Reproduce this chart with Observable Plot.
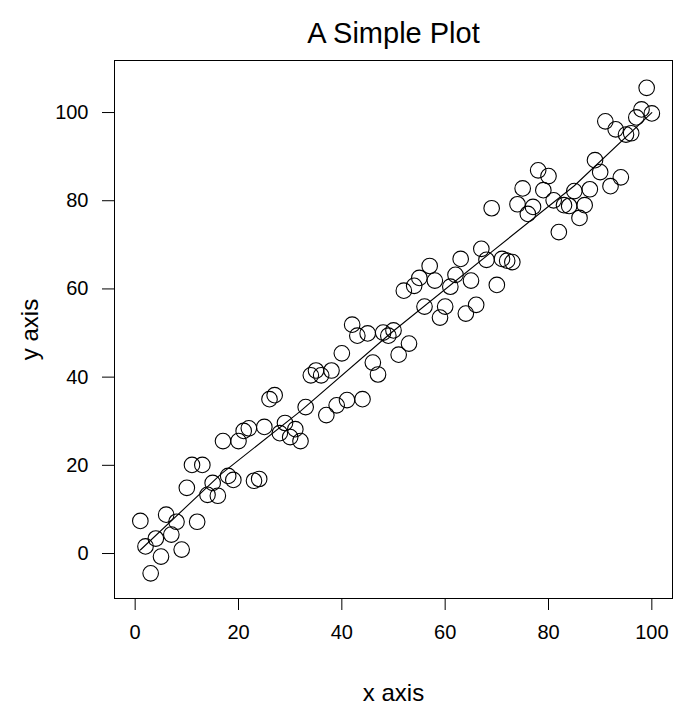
<!DOCTYPE html>
<html>
<head>
<meta charset="utf-8">
<script src="https://cdn.jsdelivr.net/npm/d3@7"></script>
<script src="https://cdn.jsdelivr.net/npm/@observablehq/plot@0.6"></script>
<style>
  html, body { margin: 0; padding: 0; background: #fff; }
</style>
</head>
<body>
<div id="chart"></div>
<script>
const xs = [1,2,3,4,5,6,7,8,9,10,11,12,13,14,15,16,17,18,19,20,21,22,23,24,25,26,27,28,29,30,31,32,33,34,35,36,37,38,39,40,41,42,43,44,45,46,47,48,49,50,51,52,53,54,55,56,57,58,59,60,61,62,63,64,65,66,67,68,69,70,71,72,73,74,75,76,77,78,79,80,81,82,83,84,85,86,87,88,89,90,91,92,93,94,95,96,97,98,99,100];
const ys = [7.4,1.6,-4.5,3.4,-0.7,8.8,4.3,7.2,0.9,14.9,
            20.1,7.2,20.1,13.3,16.0,13.1,25.5,17.6,16.7,25.5,
            27.8,28.4,16.5,16.9,28.7,35.0,35.9,27.3,29.6,26.4,
            28.2,25.5,33.2,40.4,41.5,40.4,31.4,41.5,33.6,45.4,
            34.8,51.9,49.4,35.0,49.9,43.3,40.6,50.1,49.4,50.6,
            45.1,59.6,47.6,60.7,62.5,56.0,65.2,61.9,53.5,56.0,
            60.5,63.2,66.8,54.4,61.9,56.4,69.1,66.6,78.3,60.9,
            66.8,66.4,66.1,79.2,82.8,77.0,78.6,86.9,82.4,85.6,
            80.1,72.9,79.0,78.8,82.2,76.1,79.0,82.6,89.2,86.5,
            98.0,83.3,96.2,85.3,95.0,95.3,98.9,100.7,105.6,99.8];
const lineX = [1, 16.6, 32, 49.5, 69, 85, 100];
const lineY = [0.8, 18, 32.3, 50, 68.4, 83.4, 100];
const xTicks = [0, 20, 40, 60, 80, 100];
const yTicks = [0, 20, 40, 60, 80, 100];
const titleText = "A Simple Plot";
const xLabel = "x axis";
const yLabel = "y axis";

const points = xs.map((x, i) => ({x, y: ys[i]}));
const smooth = lineX.map((x, i) => ({x, y: lineY[i]}));

const chart = Plot.plot({
  width: 673,
  height: 706,
  marginLeft: 114,
  marginRight: 1,
  marginTop: 60,
  marginBottom: 108,
  style: {fontFamily: "'Liberation Sans', Arial, sans-serif", background: "#fff", color: "#000"},
  x: {domain: [-4, 104]},
  y: {domain: [-10.2, 111.8]},
  marks: [
    Plot.frame({stroke: "#000", strokeWidth: 1}),
    Plot.axisX({ticks: xTicks, tickSize: 12, tickPadding: 14, fontSize: 20, label: null, stroke: "#000"}),
    Plot.axisY({ticks: yTicks, tickSize: 12, tickPadding: 14, fontSize: 20, label: null, stroke: "#000"}),
    Plot.line(smooth, {x: "x", y: "y", stroke: "#000", strokeWidth: 1.1}),
    Plot.dot(points, {x: "x", y: "y", r: 7.8, stroke: "#000", strokeWidth: 1.1, fill: "none"}),
    Plot.text([titleText], {frameAnchor: "top", lineAnchor: "middle", textAnchor: "middle", dy: -27, fontSize: 29, fill: "#000"}),
    Plot.text([xLabel], {frameAnchor: "bottom", lineAnchor: "middle", textAnchor: "middle", dy: 95, fontSize: 24, fill: "#000"}),
    Plot.text([yLabel], {frameAnchor: "left", lineAnchor: "middle", textAnchor: "middle", dx: -84, rotate: -90, fontSize: 24, fill: "#000"})
  ]
});
document.getElementById("chart").appendChild(chart);
</script>
</body>
</html>
